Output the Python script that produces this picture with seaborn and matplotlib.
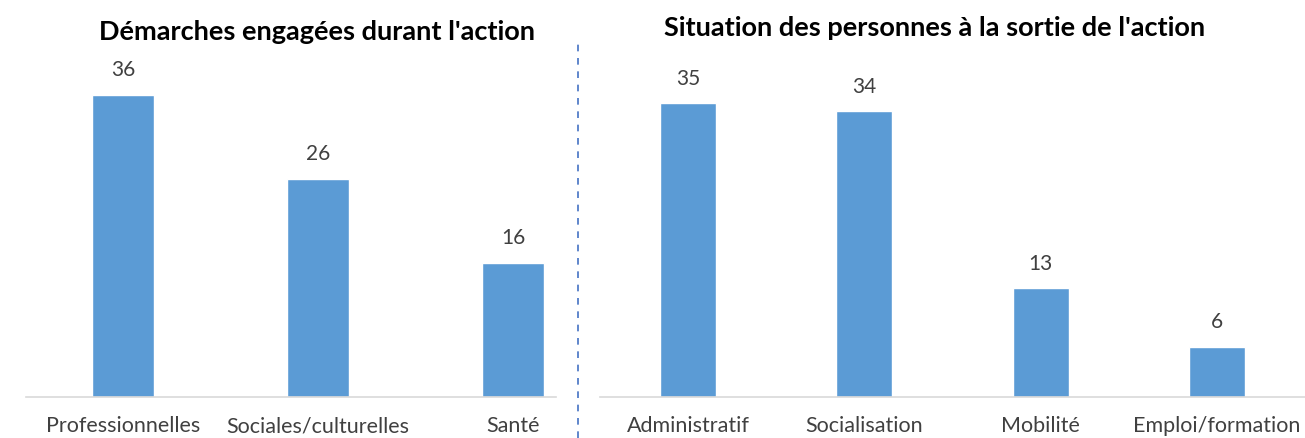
import numpy as np
import pandas as pd
import matplotlib.pyplot as plt
import seaborn as sns
from matplotlib.lines import Line2D

# Data
demarches_cats = ["Professionnelles", "Sociales/culturelles", "Santé"]
demarches_vals = [36, 26, 16]

sortie_cats = ["Administratif", "Socialisation", "Mobilité", "Emploi/formation"]
sortie_vals = [35, 34, 13, 6]

BAR = "#5B9BD5"
TXT = "#404040"

sns.set_theme(style="white")
plt.rcParams['font.family'] = ['Lato', 'DejaVu Sans']

W, H = 1305, 439
fig = plt.figure(figsize=(W / 100, H / 100), dpi=100)

def px_axes(x0, x1, y0, y1):
    # pixel box -> figure fraction
    return fig.add_axes([x0 / W, 1 - y1 / H, (x1 - x0) / W, (y1 - y0) / H])

ax1 = px_axes(26, 556, 62, 398)
ax2 = px_axes(600, 1305, 62, 398)

def draw(ax, cats, vals, xlim):
    df = pd.DataFrame({"cat": cats, "val": vals})
    sns.barplot(data=df, x="cat", y="val", color=BAR, width=0.318,
                saturation=1, ax=ax)
    ax.set_ylim(0, 40)
    ax.set_xlim(*xlim)
    for c in ax.containers:
        ax.bar_label(c, padding=11, fontsize=15, color=TXT)
    ax.set_xlabel("")
    ax.set_ylabel("")
    ax.set_yticks([])
    for s in ["top", "right", "left"]:
        ax.spines[s].set_visible(False)
    ax.spines["bottom"].set_color("#D9D9D9")
    ax.spines["bottom"].set_linewidth(1.2)
    ax.tick_params(axis="x", length=0, pad=13, labelsize=15.5, labelcolor=TXT)
    return ax

draw(ax1, demarches_cats, demarches_vals, (-0.5, 2.22))
draw(ax2, sortie_cats, sortie_vals, (-0.5, 3.5))

fig.text(317 / W, 1 - 32 / H, "Démarches engagées durant l'action",
         ha="center", va="center", fontsize=19.5, fontweight="bold", color="black")
fig.text(935 / W, 1 - 28 / H, "Situation des personnes à la sortie de l'action",
         ha="center", va="center", fontsize=19.5, fontweight="bold", color="black")

# dashed separator
fig.add_artist(Line2D([578 / W, 578 / W], [0, 1 - 40 / H], transform=fig.transFigure,
                      color="#4472C4", linestyle=(0, (4, 4)), linewidth=1.2))

fig.savefig("out.png", dpi=100, facecolor="white")
